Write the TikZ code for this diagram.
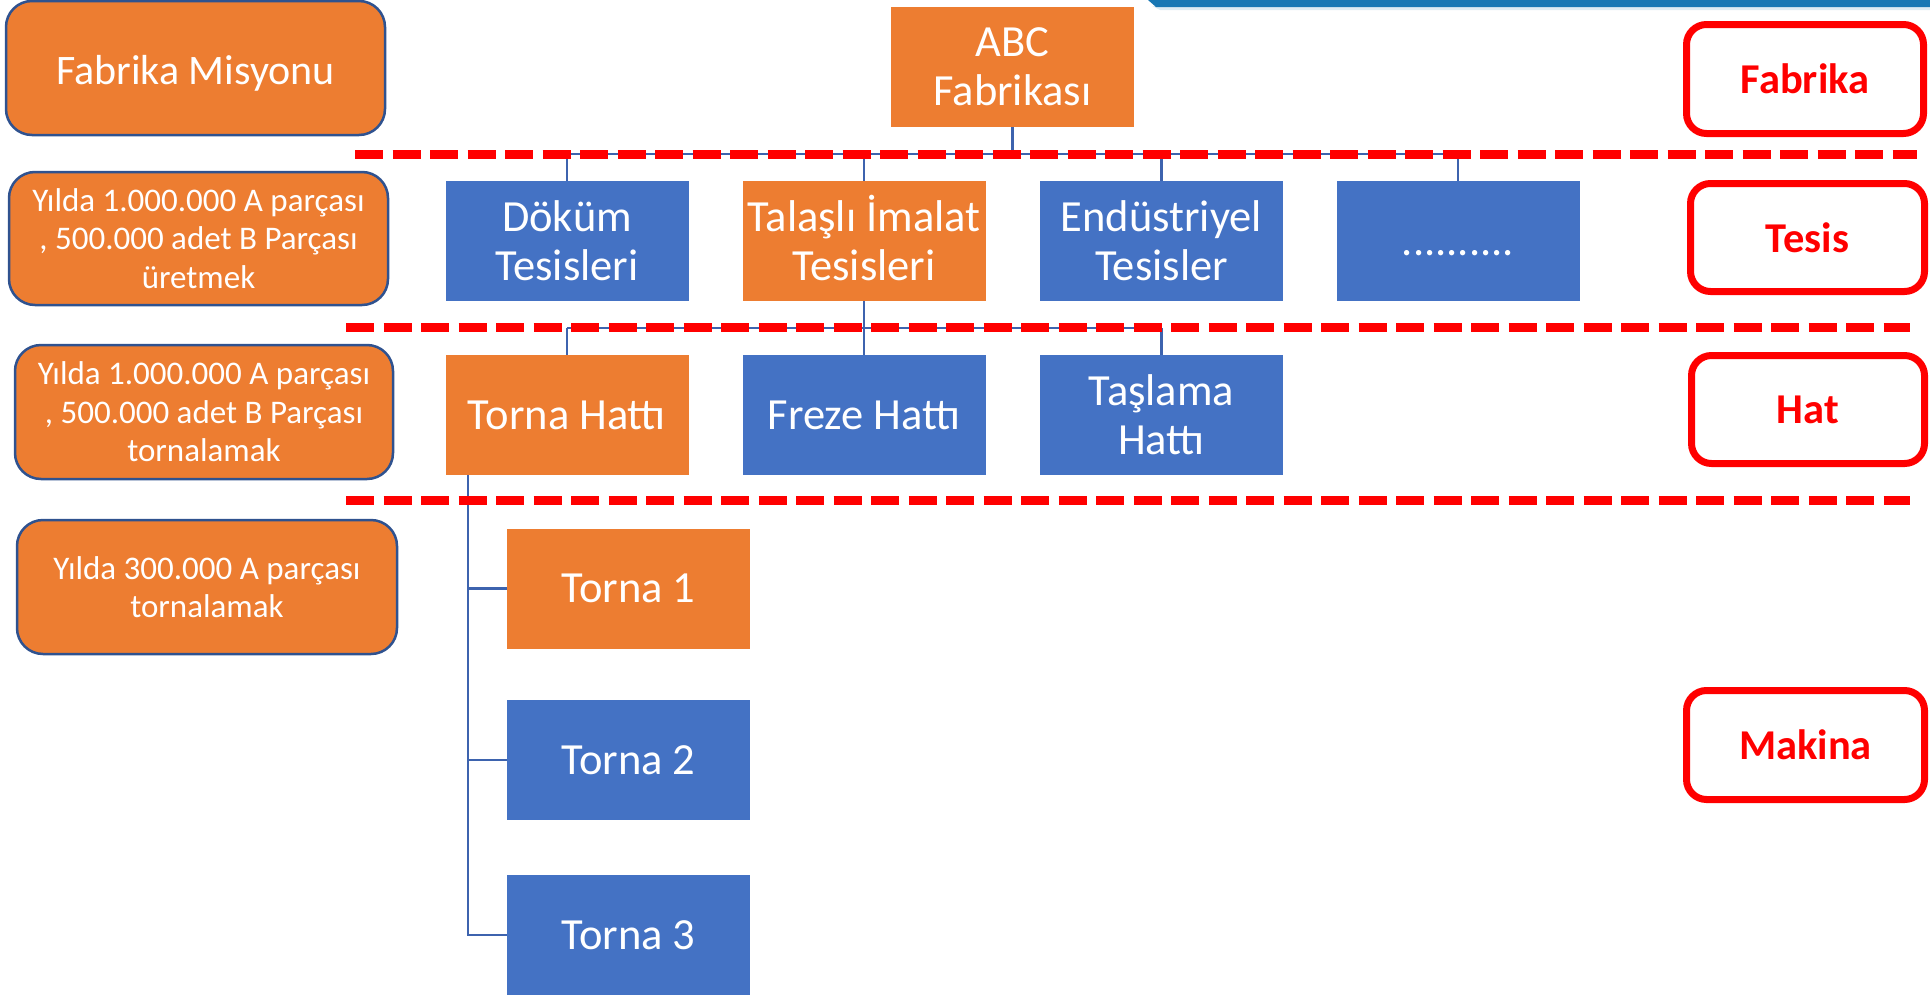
\documentclass[tikz,border=0pt]{standalone}
\usepackage{fontspec}
\setmainfont{Carlito}
\definecolor{borange}{HTML}{ED7D31}
\definecolor{bblue}{HTML}{4472C4}
\definecolor{bedge}{HTML}{2F528F}
\definecolor{lnblue}{HTML}{3D63AE}
\definecolor{hdr}{HTML}{1777B4}
\definecolor{hdrglow}{HTML}{DCEBF3}

\begin{document}
\begin{tikzpicture}[x=1pt,y=-1pt,
  unit/.style={rectangle, inner sep=0pt, minimum width=243pt, minimum height=120pt,
    text=white, align=center, font=\fontsize{44.5}{49}\selectfont},
  orangeunit/.style={unit, fill=borange},
  blueunit/.style={unit, fill=bblue},
  mission/.style={rectangle, rounded corners=26pt, fill=borange, draw=bedge,
    line width=2.5pt, text=white, align=center, inner sep=0pt},
  level/.style={rectangle, rounded corners=20pt, draw=red, line width=7pt,
    text=red, inner sep=0pt, font=\fontsize{42.5}{49}\selectfont\bfseries},
  conn/.style={draw=lnblue, line width=2.2pt},
  sep/.style={draw=red, line width=9pt, dash pattern=on 28pt off 9.5pt}
]
\useasboundingbox (0,0) rectangle (1930,1001);

% header strip
\fill[hdrglow] (1152,6) -- (1930,6) -- (1930,10) -- (1160,10) -- cycle;
\fill[hdr] (1148,0) -- (1930,0) -- (1930,7) -- (1156,7) -- cycle;

% mission boxes
\node[mission, minimum width=379pt, minimum height=134pt,
  font=\fontsize{42}{49}\selectfont] (m1) at (195.5,68)
  {\rule{0pt}{40pt}Fabrika Misyonu\vphantom{g}};
\node[mission, minimum width=379pt, minimum height=133pt,
  font=\fontsize{33}{38.5}\selectfont] (m2) at (198.5,238.5)
  {Yılda 1.000.000 A parçası\\, 500.000 adet B Parçası\\üretmek};
\node[mission, minimum width=378pt, minimum height=134pt,
  font=\fontsize{33}{38.5}\selectfont] (m3) at (204,412)
  {Yılda 1.000.000 A parçası\\, 500.000 adet B Parçası\\tornalamak};
\node[mission, minimum width=380pt, minimum height=134pt,
  font=\fontsize{33}{38.5}\selectfont] (m4) at (207,587)
  {Yılda 300.000 A parçası\\tornalamak};

% hierarchy units
\node[orangeunit] (abc) at (1012.5,67) {ABC\\Fabrikası};

\node[blueunit]   (dokum)    at (567,241)    {Döküm\\Tesisleri};
\node[orangeunit] (talasli)  at (864,241)    {Talaşlı \smash{İ}malat\\Tesisleri};
\node[blueunit]   (endustri) at (1161.5,241) {Endüstriyel\\Tesisler};
\node[blueunit]   (diger)    at (1458,241)   {\rule{0pt}{36pt}..........\vphantom{g}};

\node[orangeunit] (torhat) at (567,415)    {Torna Hattı};
\node[blueunit]   (frehat) at (864,415)    {Freze Hattı};
\node[blueunit]   (tashat) at (1161.5,415) {Taşlama\\Hattı};

\node[orangeunit] (torna1) at (628.5,588.5) {Torna 1};
\node[blueunit]   (torna2) at (628.5,760)   {Torna 2};
\node[blueunit]   (torna3) at (628.5,935)   {Torna 3};

% connectors
\coordinate (b1) at (0,154);
\coordinate (b2) at (0,328);
\draw[conn] (abc.south) -- (abc.south |- b1);
\draw[conn] (dokum.north |- b1) -- (diger.north |- b1);
\foreach \n in {dokum,talasli,endustri,diger}
  \draw[conn] (\n.north |- b1) -- (\n.north);
\draw[conn] (talasli.south) -- (talasli.south |- b2);
\draw[conn] (torhat.north |- b2) -- (tashat.north |- b2);
\foreach \n in {torhat,frehat,tashat}
  \draw[conn] (\n.north |- b2) -- (\n.north);
\coordinate (tk) at ([xshift=-99pt]torhat.south);
\draw[conn] (tk) |- (torna3.west);
\draw[conn] (tk |- torna1.west) -- (torna1.west);
\draw[conn] (tk |- torna2.west) -- (torna2.west);

% level separators
\coordinate (s1a) at (355,154);  \coordinate (s1b) at (1917,154);
\coordinate (s2a) at (346,327);  \coordinate (s2b) at (1910,327);
\coordinate (s3a) at (346,500);  \coordinate (s3b) at (1910,500);
\draw[sep] (s1a) -- (s1b);
\draw[sep] (s2a) -- (s2b);
\draw[sep] (s3a) -- (s3b);

% level labels
\node[level, minimum width=237pt, minimum height=109pt] (lfab) at (1805,79) {Fabrika};
\node[level, minimum width=234pt, minimum height=108pt] (ltes) at (1807.5,237.5) {Tesis};
\node[level, minimum width=233pt, minimum height=108pt] (lhat) at (1808,409.5) {Hat};
\node[level, minimum width=238pt, minimum height=109pt] (lmak) at (1805.5,745) {Makina};
\end{tikzpicture}
\end{document}
